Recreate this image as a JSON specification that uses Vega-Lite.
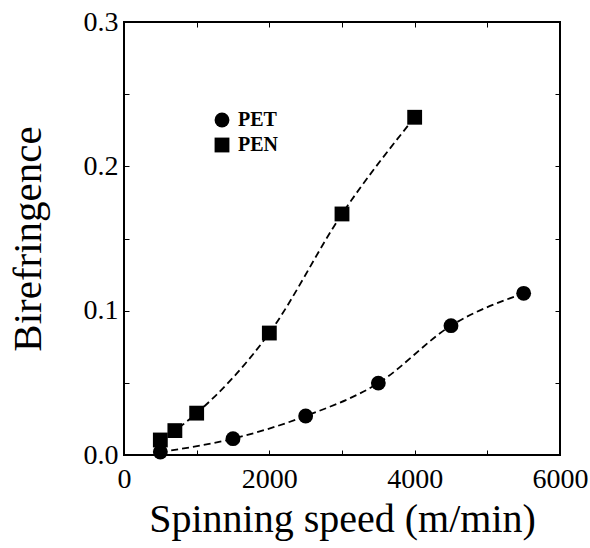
{
  "$schema": "https://vega.github.io/schema/vega-lite/v6.json",
  "width": 436,
  "height": 433,
  "autosize": {"type": "none"},
  "padding": {"left": 124, "top": 22, "right": 30, "bottom": 93},
  "background": "white",
  "config": {
    "view": {"stroke": "black", "strokeWidth": 2},
    "font": "Liberation Serif"
  },
  "data": {
    "values": [
      {"speed": 500, "bire": 0.002, "polymer": "PET"},
      {"speed": 1500, "bire": 0.0113, "polymer": "PET"},
      {"speed": 2500, "bire": 0.027, "polymer": "PET"},
      {"speed": 3500, "bire": 0.0498, "polymer": "PET"},
      {"speed": 4500, "bire": 0.0896, "polymer": "PET"},
      {"speed": 5500, "bire": 0.112, "polymer": "PET"},
      {"speed": 500, "bire": 0.0104, "polymer": "PEN"},
      {"speed": 700, "bire": 0.0169, "polymer": "PEN"},
      {"speed": 1000, "bire": 0.029, "polymer": "PEN"},
      {"speed": 2000, "bire": 0.0845, "polymer": "PEN"},
      {"speed": 3000, "bire": 0.167, "polymer": "PEN"},
      {"speed": 4000, "bire": 0.234, "polymer": "PEN"}
    ]
  },
  "layer": [
    {
      "mark": {"type": "line", "interpolate": "monotone", "color": "black", "strokeWidth": 1.8, "strokeDash": [7, 4]},
      "encoding": {
        "x": {"field": "speed", "type": "quantitative", "scale": {"domain": [0, 6000], "nice": false},
          "axis": {"orient": "bottom", "values": [0,1000,2000,3000,4000,5000,6000], "labelExpr": "datum.value % 2000 === 0 ? datum.label : ''", "format": "d", "grid": false, "domain": false, "tickColor": "black", "tickSize": -5, "tickWidth": 1, "labelFlush": false, "labelFont": "Liberation Serif", "labelFontSize": 28, "labelColor": "black", "labelPadding": 15, "title": "Spinning speed (m/min)", "titleFont": "Liberation Serif", "titleFontSize": 40, "titleFontWeight": "normal", "titleColor": "black", "titlePadding": 6}},
        "y": {"field": "bire", "type": "quantitative", "scale": {"domain": [0, 0.3], "nice": false},
          "axis": {"orient": "left", "values": [0,0.05,0.1,0.15,0.2,0.25,0.3], "labelExpr": "(round(datum.value*100) % 10 === 0) ? format(datum.value, '.1f') : ''", "grid": false, "domain": false, "tickColor": "black", "tickSize": -5, "tickWidth": 1, "labelFlush": false, "labelFont": "Liberation Serif", "labelFontSize": 28, "labelColor": "black", "labelPadding": 11, "title": "Birefringence", "titleFont": "Liberation Serif", "titleFontSize": 41, "titleFontWeight": "normal", "titleColor": "black", "titlePadding": 34}},
        "detail": {"field": "polymer"}
      }
    },
    {
      "mark": {"type": "point", "filled": true, "opacity": 1, "color": "black", "size": 220},
      "encoding": {
        "x": {"field": "speed", "type": "quantitative", "axis": {"orient": "top", "values": [0,1000,2000,3000,4000,5000,6000], "labels": false, "title": null, "grid": false, "domain": false, "tickColor": "black", "tickSize": -5}},
        "y": {"field": "bire", "type": "quantitative", "axis": {"orient": "right", "values": [0,0.05,0.1,0.15,0.2,0.25,0.3], "labels": false, "title": null, "grid": false, "domain": false, "tickColor": "black", "tickSize": -5}},
        "shape": {"field": "polymer", "type": "nominal", "scale": {"domain": ["PET", "PEN"], "range": ["circle", "square"]},
          "legend": {"orient": "none", "legendX": 88, "legendY": 88, "title": null, "symbolSize": 220, "symbolFillColor": "black", "symbolStrokeColor": "black", "symbolType": "circle", "labelFont": "Liberation Serif", "labelFontWeight": "bold", "labelFontSize": 20, "labelColor": "black", "rowPadding": 3, "labelOffset": 6}}
      }
    }
  ],
  "resolve": {"axis": {"x": "independent", "y": "independent"}}
}
